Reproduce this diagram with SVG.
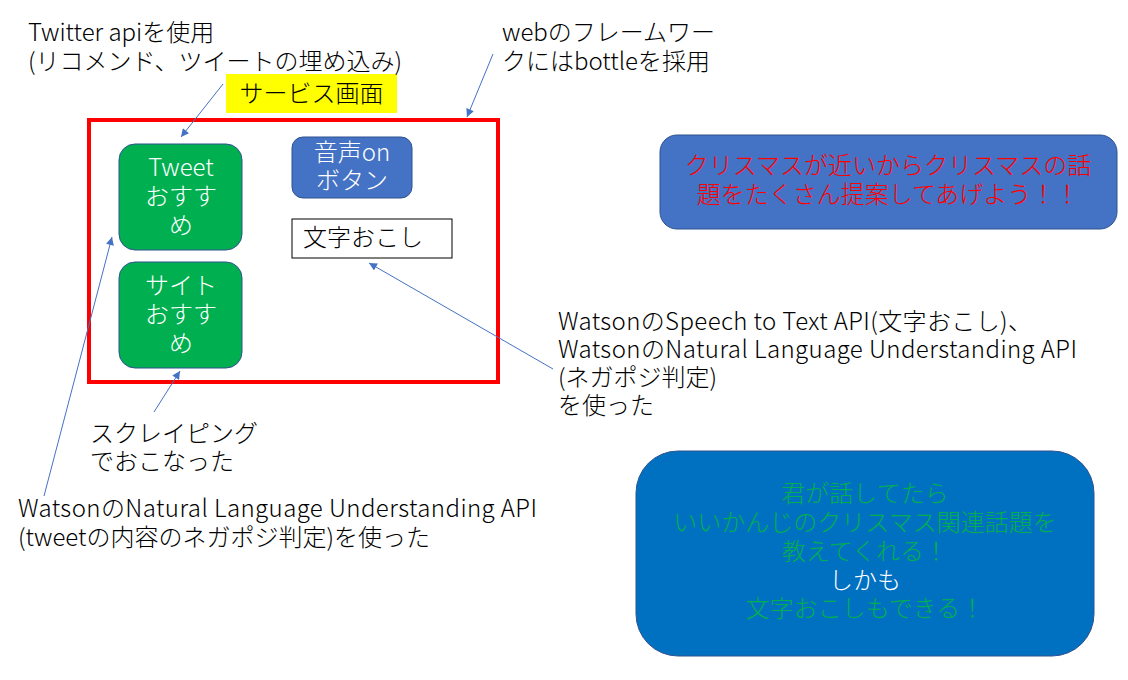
<svg xmlns="http://www.w3.org/2000/svg" width="1128" height="680" viewBox="0 0 1128 680">
<style>
text{font-family:"Noto Sans CJK JP","Noto Sans",sans-serif;font-size:24px;font-weight:300;}
.lbl{fill:#000;}
.w{fill:#fff;}
.mid{text-anchor:middle;}
.green{fill:#00B050;stroke:#2F528F;stroke-width:1;}
.blue{fill:#4472C4;stroke:#2F528F;stroke-width:1;}
.conn line{stroke:#4472C4;stroke-width:1;marker-end:url(#ah);}
</style>
<defs>
<marker id="ah" viewBox="0 0 10 10" refX="10" refY="5" markerWidth="9" markerHeight="8" markerUnits="userSpaceOnUse" orient="auto">
<path d="M0,0 L10,5 L0,10 z" fill="#4472C4"/>
</marker>
</defs>
<rect width="1128" height="680" fill="#fff"/>

<g id="service-screen">
<rect x="89" y="120" width="409" height="262" fill="none" stroke="#FF0000" stroke-width="4"/>
</g>
<g id="service-label">
<rect x="226" y="74" width="171" height="39" fill="#FFFF00"/>
<text class="lbl mid" x="311.5" y="102">サービス画面</text>
</g>

<g id="tweet-rec">
<rect class="green" x="119" y="144" width="123" height="106" rx="16"/>
<text class="w mid" x="181" y="176"><tspan x="181">Tweet</tspan><tspan x="181" dy="29">おすす</tspan><tspan x="181" dy="29">め</tspan></text>
</g>
<g id="site-rec">
<rect class="green" x="119" y="262" width="123" height="106" rx="16"/>
<text class="w mid" x="181" y="294"><tspan x="181">サイト</tspan><tspan x="181" dy="29">おすす</tspan><tspan x="181" dy="29">め</tspan></text>
</g>
<g id="voice-button">
<rect class="blue" x="292" y="137" width="120" height="61" rx="11"/>
<text class="w mid" x="352" y="161"><tspan x="352">音声on</tspan><tspan x="352" dy="28">ボタン</tspan></text>
</g>
<g id="transcript">
<rect x="292" y="219" width="160" height="39" fill="#fff" stroke="#000" stroke-width="1"/>
<text class="lbl" x="303" y="246">文字おこし</text>
</g>

<g id="note-twitter">
<text class="lbl" x="28" y="41"><tspan x="28">Twitter apiを使用</tspan><tspan x="28" dy="29">(リコメンド、ツイートの埋め込み)</tspan></text>
</g>
<g id="note-web">
<text class="lbl" x="502" y="41"><tspan x="502">webのフレームワー</tspan><tspan x="502" dy="29">クにはbottleを採用</tspan></text>
</g>
<g id="note-scraping">
<text class="lbl" x="90" y="442"><tspan x="90">スクレイピング</tspan><tspan x="90" dy="28">でおこなった</tspan></text>
</g>
<g id="note-nlu">
<text class="lbl" x="18" y="517"><tspan x="18" textLength="519" lengthAdjust="spacing">WatsonのNatural Language Understanding API</tspan><tspan x="18" dy="29">(tweetの内容のネガポジ判定)を使った</tspan></text>
</g>
<g id="note-speech">
<text class="lbl" x="558" y="330"><tspan x="558" textLength="474" lengthAdjust="spacing">WatsonのSpeech to Text API(文字おこし)、</tspan><tspan x="558" dy="28" textLength="519" lengthAdjust="spacing">WatsonのNatural Language Understanding API</tspan><tspan x="558" dy="28">(ネガポジ判定)</tspan><tspan x="558" dy="28">を使った</tspan></text>
</g>

<g id="christmas-box">
<rect class="blue" x="660" y="135" width="457" height="94" rx="17"/>
<text class="mid" x="888" y="174" fill="#FF0000"><tspan x="888">クリスマスが近いからクリスマスの話</tspan><tspan x="888" dy="29">題をたくさん提案してあげよう！！</tspan></text>
</g>
<g id="summary-box">
<rect x="636" y="451" width="458" height="205" rx="42" fill="#0070C0" stroke="#2F528F" stroke-width="1"/>
<text class="mid" x="865" y="502" fill="#00B050"><tspan x="865">君が話してたら</tspan><tspan x="865" dy="29">いいかんじのクリスマス関連話題を</tspan><tspan x="865" dy="29">教えてくれる！</tspan><tspan x="865" dy="29" fill="#fff">しかも</tspan><tspan x="865" dy="28">文字おこしもできる！</tspan></text>
</g>

<g id="connectors" class="conn">
<line x1="223" y1="84" x2="181" y2="137"/>
<line x1="493" y1="54" x2="467" y2="117"/>
<line x1="44" y1="496" x2="112" y2="237"/>
<line x1="154" y1="412" x2="180" y2="371"/>
<line x1="553" y1="369" x2="369" y2="263"/>
</g>
</svg>
